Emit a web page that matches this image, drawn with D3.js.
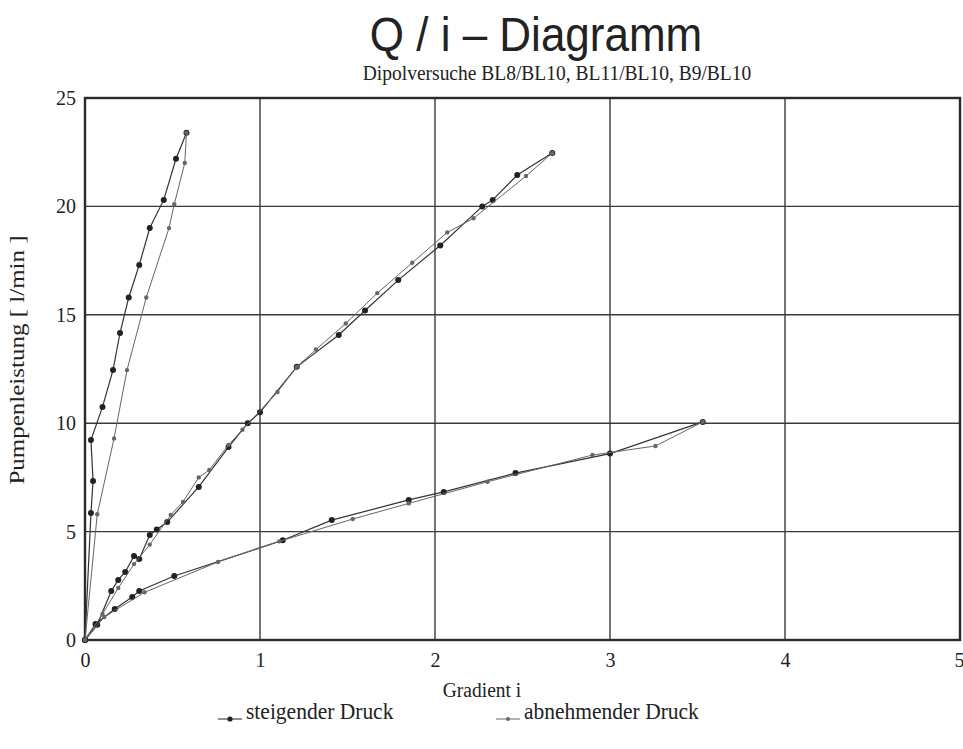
<!DOCTYPE html>
<meta charset="utf-8">
<script src="https://d3js.org/d3.v7.min.js"></script>
<style>
  body { margin: 0; background: #fff; }
  text { fill: #222; }
</style>
<div id="chart"></div>
<script>
// x ticks / y ticks
var xTicks = [0, 1, 2, 3, 4, 5]
var yTicks = [0, 5, 10, 15, 20, 25]

// three dipole tests, each rising (steigend) and falling (abnehmend) pressure
// values: [gradient i, Q in l/min]
var bl8Steigend = [[0,0],[0.034,5.86],[0.046,7.33],[0.034,9.22],[0.1,10.75],[0.16,12.45],[0.2,14.16],[0.25,15.8],[0.31,17.3],[0.37,19.0],[0.45,20.3],[0.52,22.2],[0.58,23.4]]
var bl8Abnehmend = [[0.58,23.4],[0.57,22.0],[0.51,20.1],[0.48,19.0],[0.35,15.8],[0.24,12.45],[0.166,9.3],[0.07,5.8],[0,0]]

var bl11Steigend = [[0,0],[0.07,0.7],[0.15,2.26],[0.19,2.77],[0.23,3.14],[0.28,3.87],[0.31,3.74],[0.37,4.84],[0.41,5.1],[0.47,5.44],[0.65,7.06],[0.82,8.9],[0.93,10.0],[1.0,10.5],[1.21,12.6],[1.45,14.07],[1.6,15.2],[1.79,16.6],[2.03,18.2],[2.27,20.0],[2.33,20.3],[2.47,21.45],[2.67,22.46]]
var bl11Abnehmend = [[2.67,22.46],[2.52,21.4],[2.22,19.45],[2.07,18.8],[1.87,17.4],[1.67,16.0],[1.49,14.6],[1.32,13.4],[1.21,12.6],[1.1,11.44],[0.9,9.7],[0.82,9.0],[0.71,7.84],[0.65,7.5],[0.56,6.37],[0.49,5.77],[0.37,4.4],[0.28,3.5],[0.19,2.4],[0.1,1.2],[0,0]]

var b9Steigend = [[0,0],[0.06,0.74],[0.17,1.43],[0.27,1.98],[0.31,2.26],[0.51,2.95],[1.13,4.6],[1.41,5.53],[1.85,6.46],[2.05,6.83],[2.46,7.7],[3.0,8.6],[3.53,10.06]]
var b9Abnehmend = [[3.53,10.06],[3.26,8.95],[2.9,8.53],[2.3,7.3],[1.85,6.3],[1.53,5.58],[1.11,4.55],[0.76,3.6],[0.34,2.2],[0.11,1.06],[0,0]]

var steigend = [bl8Steigend, bl11Steigend, b9Steigend]
var abnehmend = [bl8Abnehmend, bl11Abnehmend, b9Abnehmend]

var margin = {top: 98, right: 3, bottom: 109, left: 85},
  width = 963 - margin.left - margin.right,
  height = 749 - margin.top - margin.bottom;

var svg = d3.select("#chart")
  .append("svg")
  .attr("width", 963)
  .attr("height", 749)

var g = svg.append("g")
  .attr("transform", "translate(" + margin.left + "," + margin.top + ")");

var x = d3.scaleLinear().domain([0, 5]).range([0, width])
var y = d3.scaleLinear().domain([0, 25]).range([height, 0])

// grid
g.selectAll(".vgrid")
  .data(xTicks.slice(1, -1))
  .enter().append("line")
  .attr("x1", d => x(d)).attr("x2", d => x(d))
  .attr("y1", 0).attr("y2", height)
  .attr("stroke", "#3a3a3a").attr("stroke-width", 1.4)
g.selectAll(".hgrid")
  .data(yTicks.slice(1, -1))
  .enter().append("line")
  .attr("x1", 0).attr("x2", width)
  .attr("y1", d => y(d)).attr("y2", d => y(d))
  .attr("stroke", "#3a3a3a").attr("stroke-width", 1.4)

// frame
g.append("rect")
  .attr("width", width).attr("height", height)
  .attr("fill", "none").attr("stroke", "#2a2a2a").attr("stroke-width", 2.4)

// axes, labels only
var xAxis = g.append("g")
  .attr("transform", "translate(0," + height + ")")
  .call(d3.axisBottom(x).tickValues(xTicks).tickSize(0).tickPadding(13).tickFormat(d3.format("d")))
xAxis.select(".domain").remove()
xAxis.selectAll("text").style("font-family", "Liberation Serif").style("font-size", "20px")
// last label sits on the page edge
xAxis.selectAll(".tick").filter(d => d == 5).select("text").attr("text-anchor", "end").attr("x", 4)

var yAxis = g.append("g")
  .call(d3.axisLeft(y).tickValues(yTicks).tickSize(0).tickPadding(9).tickFormat(d3.format("d")))
yAxis.select(".domain").remove()
yAxis.selectAll("text").style("font-family", "Liberation Serif").style("font-size", "20px")

var line = d3.line().x(d => x(d[0])).y(d => y(d[1]))

// rising pressure
steigend.forEach(function(s) {
  g.append("path").datum(s)
    .attr("d", line).attr("fill", "none")
    .attr("stroke", "#333").attr("stroke-width", 1.2)
  g.selectAll(null).data(s).enter().append("circle")
    .attr("cx", d => x(d[0])).attr("cy", d => y(d[1]))
    .attr("r", 3).attr("fill", "#222")
})

// falling pressure
abnehmend.forEach(function(s) {
  g.append("path").datum(s)
    .attr("d", line).attr("fill", "none")
    .attr("stroke", "#666").attr("stroke-width", 1)
  g.selectAll(null).data(s).enter().append("circle")
    .attr("cx", d => x(d[0])).attr("cy", d => y(d[1]))
    .attr("r", 2.2).attr("fill", "#666")
})

// titles (the scan is a bit stretched vertically)
svg.append("text")
  .attr("transform", "translate(536,51) scale(1,1.08)")
  .attr("text-anchor", "middle")
  .style("font-family", "Liberation Sans")
  .style("font-size", "44px")
  .text("Q / i – Diagramm")

svg.append("text")
  .attr("transform", "translate(557,80) scale(1,1.08)")
  .attr("text-anchor", "middle")
  .style("font-family", "Liberation Serif")
  .style("font-size", "19.5px")
  .text("Dipolversuche BL8/BL10, BL11/BL10, B9/BL10")

svg.append("text")
  .attr("transform", "translate(482,697) scale(1,1.12)")
  .attr("text-anchor", "middle")
  .style("font-family", "Liberation Serif")
  .style("font-size", "19.5px")
  .text("Gradient i")

svg.append("text")
  .attr("transform", "translate(24,360) rotate(-90) scale(1.25,1)")
  .attr("text-anchor", "middle")
  .style("font-family", "Liberation Serif")
  .style("font-size", "20px")
  .text("Pumpenleistung [ l/min ]")

// legend
var legend = [
  {label: "steigender Druck", x: 218, color: "#222", r: 2.6},
  {label: "abnehmender Druck", x: 496, color: "#666", r: 2}
]
legend.forEach(function(l) {
  svg.append("line")
    .attr("x1", l.x).attr("x2", l.x + 24)
    .attr("y1", 719).attr("y2", 719)
    .attr("stroke", l.color).attr("stroke-width", 1)
  svg.append("circle")
    .attr("cx", l.x + 12).attr("cy", 719).attr("r", l.r).attr("fill", l.color)
  svg.append("text")
    .attr("transform", "translate(" + (l.x + 28) + ",719) scale(1,1.1)")
    .style("font-family", "Liberation Serif")
    .style("font-size", "21.5px")
    .text(l.label)
})
</script>
